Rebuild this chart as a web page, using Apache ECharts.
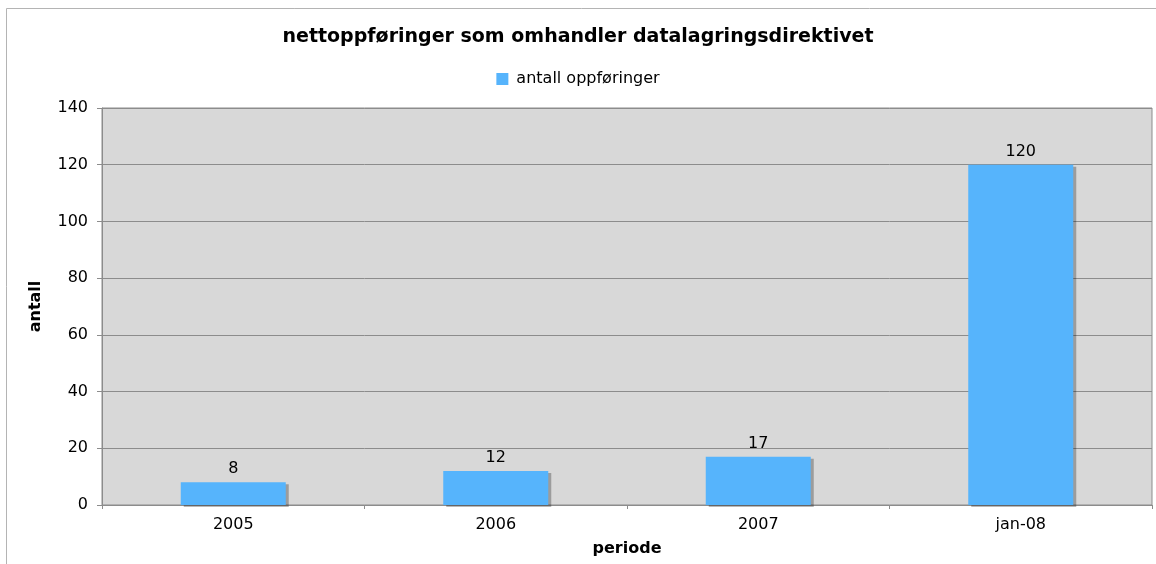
<!DOCTYPE html>
<html>
<head>
<meta charset="utf-8">
<script src="https://cdn.jsdelivr.net/npm/echarts@6/dist/echarts.min.js"></script>
<style>
  html, body { margin: 0; padding: 0; background: #fff; }
  #chart { width: 1156px; height: 564px; }
</style>
</head>
<body>
<div id="chart"></div>
<script>
// data
const categories = ['2005', '2006', '2007', 'jan-08']
const antallOppforinger = [8, 12, 17, 120]
const seriesName = 'antall oppføringer'

const font = 'DejaVu Sans'

const chart = echarts.init(document.getElementById('chart'))
chart.setOption({
  backgroundColor: '#fff',
  animation: false,
  // outer frame of the chart
  graphic: [{
    type: 'rect',
    shape: { x: 6.5, y: 8.5, width: 1160, height: 600 },
    style: { fill: 'none', stroke: '#b4b4b4', lineWidth: 1 },
    silent: true
  }],
  title: {
    text: 'nettoppføringer som omhandler datalagringsdirektivet',
    left: 'center',
    top: 23,
    textStyle: { fontFamily: font, fontWeight: 'bold', fontSize: 19, color: '#000' }
  },
  legend: {
    data: [seriesName],
    top: 66,
    left: 'center',
    itemWidth: 12,
    itemHeight: 12,
    itemGap: 6,
    icon: 'rect',
    textStyle: { fontFamily: font, fontSize: 16, color: '#000', padding: [0, 0, 0, 3] }
  },
  grid: {
    left: 102,
    right: 4,
    top: 108,
    bottom: 59,
    outerBoundsMode: 'none',
    show: true,
    backgroundColor: '#d8d8d8',
    borderColor: '#8c8c8c',
    borderWidth: 1
  },
  xAxis: {
    type: 'category',
    data: categories,
    name: 'periode',
    nameLocation: 'middle',
    nameGap: 36,
    nameTextStyle: { fontFamily: font, fontWeight: 'bold', fontSize: 16, color: '#000' },
    axisLine: { lineStyle: { color: '#8c8c8c' } },
    axisTick: { show: true, length: 4, lineStyle: { color: '#8c8c8c' } },
    axisLabel: { fontFamily: font, fontSize: 16, color: '#000', margin: 12 }
  },
  yAxis: {
    type: 'value',
    min: 0,
    max: 140,
    interval: 20,
    name: 'antall',
    nameLocation: 'middle',
    nameGap: 58,
    nameRotate: 90,
    nameTextStyle: { fontFamily: font, fontWeight: 'bold', fontSize: 16, color: '#000' },
    axisLine: { show: true, lineStyle: { color: '#8c8c8c' } },
    axisTick: { show: true, length: 5, lineStyle: { color: '#8c8c8c' } },
    axisLabel: { fontFamily: font, fontSize: 16, color: '#000', margin: 14 },
    splitLine: { lineStyle: { color: '#8c8c8c', width: 1 } }
  },
  series: [{
    name: seriesName,
    type: 'bar',
    data: antallOppforinger,
    barWidth: '40%',
    itemStyle: {
      color: '#56b4fc',
      shadowColor: 'rgba(0,0,0,0.28)',
      shadowOffsetX: 3,
      shadowOffsetY: 2,
      shadowBlur: 0
    },
    label: {
      show: true,
      position: 'top',
      distance: 5,
      fontFamily: font,
      fontSize: 16,
      color: '#000'
    }
  }]
})
</script>
</body>
</html>
